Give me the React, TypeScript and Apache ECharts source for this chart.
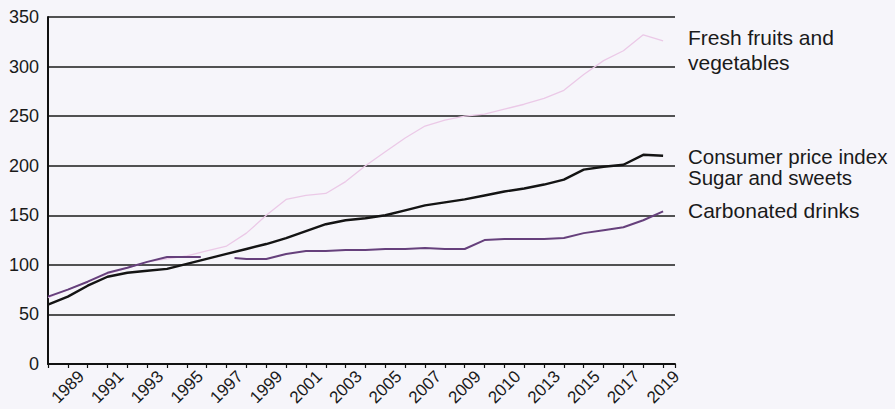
import React, { useEffect, useRef } from "react";
import * as echarts from "echarts";

const years = [
  1988, 1989, 1990, 1991, 1992, 1993, 1994, 1995, 1996, 1997, 1998, 1999, 2000, 2001, 2002, 2003,
  2004, 2005, 2006, 2007, 2008, 2009, 2010, 2011, 2012, 2013, 2014, 2015, 2016, 2017, 2018, 2019,
];
const cpi = [
  60, 68, 79, 88, 92, 94, 96, 101, 106, 111, 116, 121, 127, 134, 141, 145,
  147, 150, 155, 160, 163, 166, 170, 174, 177, 181, 186, 196, 199, 201, 211, 210,
];
const freshFruits = [
  67, 75, 83, 91, 97, 103, 106, 109, 114, 119, 132, 150, 166, 170, 172, 184,
  200, 214, 228, 240, 246, 250, 252, 257, 262, 268, 276, 292, 306, 316, 332, 326,
];
const carbonatedYears = [
  1988, 1989, 1990, 1991, 1992, 1993, 1994, 1995, 1995.7, 1996.5, 1997.4, 1998, 1999, 2000, 2001,
  2002, 2003, 2004, 2005, 2006, 2007, 2008, 2009, 2010, 2011, 2012, 2013, 2014, 2015, 2016, 2017,
  2018, 2019,
];
const carbonated = [
  68, 75, 83, 92, 97, 103, 108, 108, 108, null, 107, 106, 106, 111, 114,
  114, 115, 115, 116, 116, 117, 116, 116, 125, 126, 126, 126, 127, 132, 135, 138,
  145, 154,
];
const yTicks = [0, 50, 100, 150, 200, 250, 300, 350];
const labelRenames: Record<number, string> = { 2011: "2010" };
const seriesLabels = [
  { text: "Fresh fruits and\nvegetables", y: 24.5, lh: 25, fs: 21 },
  { text: "Consumer price index\nSugar and sweets", y: 145.5, lh: 21, fs: 20.5 },
  { text: "Carbonated drinks", y: 200, lh: 19.5, fs: 21 },
];

const FONT = "'Liberation Sans', Arial, Helvetica, sans-serif";

export default function App() {
  const ref = useRef<HTMLDivElement>(null);
  useEffect(() => {
    document.body.style.margin = "0";
    if (!ref.current) return;
    const chart = echarts.init(ref.current, null, { renderer: "svg" });
    chart.setOption({
      animation: false,
      backgroundColor: "#f6f5fa",
      grid: { left: 48, right: 220, top: 17, bottom: 45, containLabel: false, outerBoundsMode: "none" },
      xAxis: {
        type: "value",
        min: 1988,
        max: 2019.6,
        interval: 1,
        axisLine: { show: true, lineStyle: { color: "#111", width: 2 } },
        axisTick: { show: true, length: 4, lineStyle: { color: "#111", width: 1.2 } },
        splitLine: { show: false },
        axisLabel: {
          rotate: 45,
          align: "center",
          verticalAlign: "middle",
          margin: 23,
          fontSize: 17,
          color: "#1a1a1a",
          fontFamily: FONT,
          formatter: (v: number) => {
            if (!Number.isInteger(v) || v % 2 === 0) return "";
            return labelRenames[v] ?? String(v);
          },
        },
      },
      yAxis: {
        type: "value",
        min: yTicks[0],
        max: yTicks[yTicks.length - 1],
        interval: 50,
        axisLine: { show: true, lineStyle: { color: "#111", width: 2 } },
        axisTick: { show: false },
        splitLine: { show: true, lineStyle: { color: "#1a1a1a", width: 1.5 } },
        axisLabel: { margin: 9, fontSize: 18, color: "#1a1a1a", fontFamily: FONT },
      },
      series: [
        {
          name: "Fresh fruits and vegetables",
          type: "line",
          data: years.map((y, i) => [y, freshFruits[i]]),
          showSymbol: false,
          lineStyle: { color: "#ebc9e7", width: 1.3 },
        },
        {
          name: "Consumer price index",
          type: "line",
          data: years.map((y, i) => [y, cpi[i]]),
          showSymbol: false,
          lineStyle: { color: "#141414", width: 2.4 },
        },
        {
          name: "Carbonated drinks",
          type: "line",
          data: carbonatedYears.map((y, i) => [y, carbonated[i]]),
          connectNulls: false,
          showSymbol: false,
          lineStyle: { color: "#66407c", width: 2 },
        },
      ],
      graphic: seriesLabels.map((l) => ({
        type: "text",
        left: 688,
        top: l.y,
        style: {
          text: l.text,
          fontSize: l.fs,
          lineHeight: l.lh,
          fontFamily: FONT,
          fill: "#1a1a1a",
        },
      })),
    });
    return () => chart.dispose();
  }, []);
  return <div ref={ref} style={{ width: 895, height: 409 }} />;
}
